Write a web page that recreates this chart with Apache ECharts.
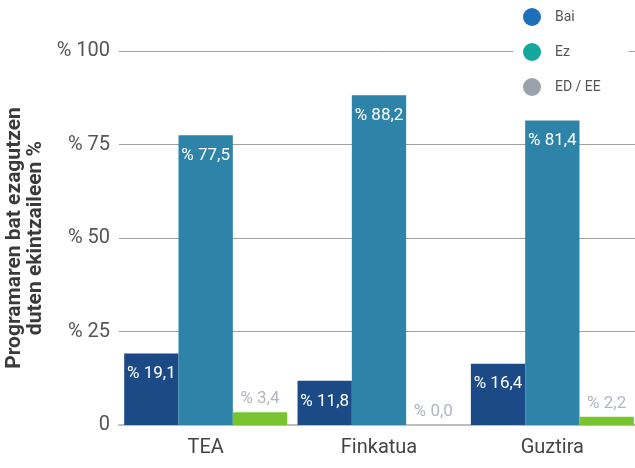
<!DOCTYPE html>
<html>
<head>
<meta charset="utf-8">
<script src="https://cdn.jsdelivr.net/npm/echarts@6/dist/echarts.min.js"></script>
<style>
  html, body { margin: 0; padding: 0; background: #fff; }
  #chart { width: 635px; height: 468px; }
</style>
</head>
<body>
<div id="chart"></div>
<script>
const categories = ['TEA', 'Finkatua', 'Guztira'];
const seriesNames = ['Bai', 'Ez', 'ED / EE'];
const baiValues = [19.1, 11.8, 16.4];
const ezValues = [77.5, 88.2, 81.4];
const edValues = [3.4, 0.0, 2.2];
const yTicks = [0, 25, 50, 75, 100];

const barColors = ['#1b4a87', '#2e83a8', '#78c42e'];
const legendColors = ['#1e6fba', '#13a89b', '#9aa2ac'];

const fmt = v => '% ' + Number(v).toFixed(1).replace('.', ',');

const chart = echarts.init(document.getElementById('chart'));

function makeSeries(name, data, idx, inside) {
  return {
    name: name,
    type: 'bar',
    data: data,
    barGap: '0%',
    barCategoryGap: '6%',
    itemStyle: { color: barColors[idx] },
    label: {
      show: true,
      position: inside ? 'insideTop' : 'top',
      distance: inside ? 12 : 5,
      color: inside ? '#ffffff' : '#b0b6bf',
      fontFamily: 'Roboto',
      fontSize: 17,
      formatter: p => fmt(p.value)
    }
  };
}

chart.setOption({
  animation: false,
  backgroundColor: '#ffffff',
  grid: { left: 119, right: -4, top: 51, bottom: 43, containLabel: false, outerBoundsMode: 'none' },
  legend: {
    orient: 'vertical',
    left: 513,
    top: 3,
    padding: [5, 28, 5, 10],
    backgroundColor: '#ffffff',
    icon: 'circle',
    itemWidth: 18,
    itemHeight: 18,
    itemGap: 17,
    textStyle: { fontFamily: 'Roboto', fontSize: 14, color: '#555', padding: [0, 0, 0, 9] },
    data: seriesNames.map((n, i) => ({ name: n, itemStyle: { color: legendColors[i] } }))
  },
  xAxis: {
    type: 'category',
    data: categories,
    axisLine: { lineStyle: { color: '#bdbdbd', width: 2 } },
    axisTick: { show: false },
    axisLabel: { fontFamily: 'Roboto', fontSize: 20, color: '#444', margin: 13 }
  },
  yAxis: {
    type: 'value',
    min: yTicks[0],
    max: yTicks[yTicks.length - 1],
    interval: 25,
    name: 'Programaren bat ezagutzen\nduten ekintzaileen %',
    nameLocation: 'middle',
    nameRotate: 90,
    nameGap: 71,
    nameTextStyle: { fontFamily: 'Roboto', fontSize: 21, fontWeight: 'bold', color: '#3a3a3a', lineHeight: 21 },
    axisLine: { show: false },
    axisTick: { show: false },
    splitLine: { lineStyle: { color: '#a0a0a0', width: 1 } },
    axisLabel: {
      fontFamily: 'Roboto', fontSize: 20, color: '#555', margin: 9,
      formatter: v => v === 0 ? '0' : '% ' + v
    }
  },
  series: [
    makeSeries(seriesNames[0], baiValues, 0, true),
    makeSeries(seriesNames[1], ezValues, 1, true),
    makeSeries(seriesNames[2], edValues, 2, false)
  ]
});
</script>
</body>
</html>
